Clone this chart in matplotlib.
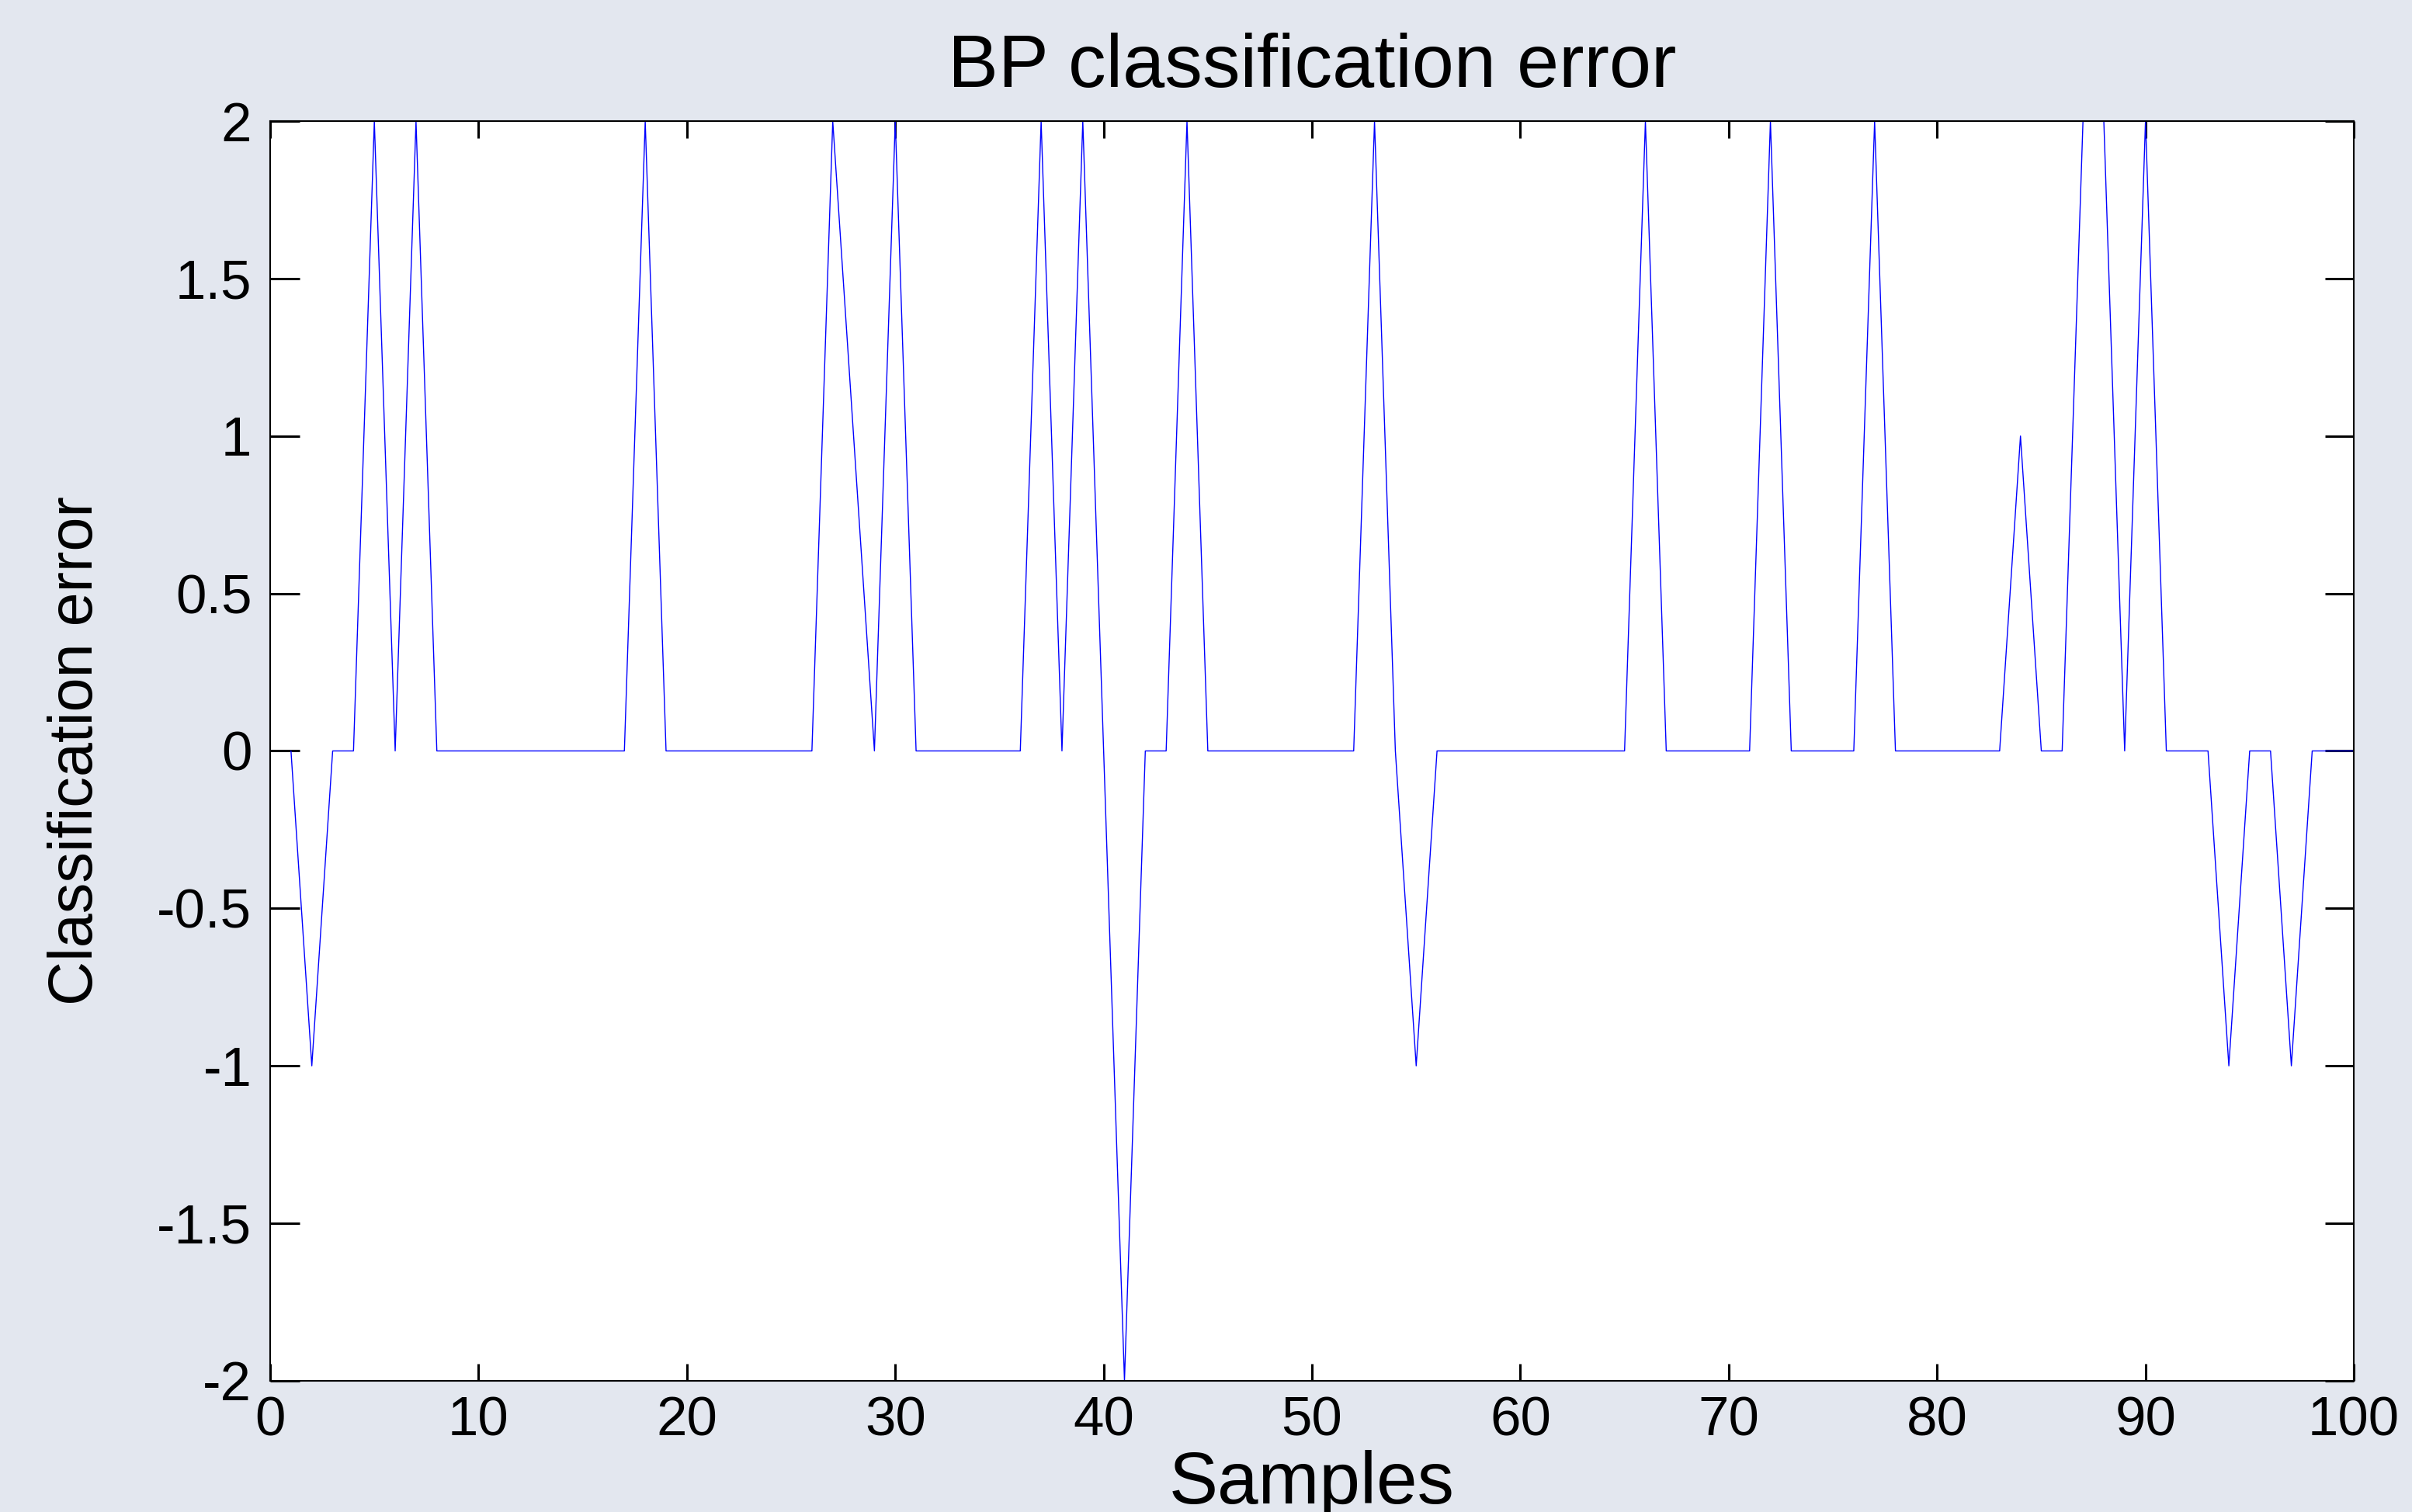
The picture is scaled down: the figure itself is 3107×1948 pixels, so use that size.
import matplotlib
matplotlib.use("Agg")
import matplotlib.pyplot as plt

# Amostras e erro de classificacao
samples = list(range(1, 101))
errors = [
    0, -1, 0, 0, 2, 0, 2, 0, 0, 0,
    0, 0, 0, 0, 0, 0, 0, 2, 0, 0,
    0, 0, 0, 0, 0, 0, 2, 1, 0, 2,
    0, 0, 0, 0, 0, 0, 2, 0, 2, 0,
    -2, 0, 0, 2, 0, 0, 0, 0, 0, 0,
    0, 0, 2, 0, -1, 0, 0, 0, 0, 0,
    0, 0, 0, 0, 0, 2, 0, 0, 0, 0,
    0, 2, 0, 0, 0, 0, 2, 0, 0, 0,
    0, 0, 0, 1, 0, 0, 2, 2, 0, 2,
    0, 0, 0, -1, 0, 0, -1, 0, 0, 0,
]
# a amostra 28 fica na descida de 27 para 29 (valor 1 na reta)

x_ticks = list(range(0, 101, 10))
y_ticks = [-2, -1.5, -1, -0.5, 0, 0.5, 1, 1.5, 2]
y_tick_labels = ["-2", "-1.5", "-1", "-0.5", "0", "0.5", "1", "1.5", "2"]

titulo = "BP classification error"
tituloX = "Samples"
tituloY = "Classification error"

plt.rcParams["font.family"] = ["Liberation Sans", "DejaVu Sans"]
plt.rcParams["axes.unicode_minus"] = False

fundo = "#e3e7ef"
fig = plt.figure(figsize=(31.07, 19.48), dpi=100, facecolor=fundo)
ax = fig.add_axes([0.112, 0.0868, 0.8639, 0.8331])
ax.set_facecolor("white")

ax.plot(samples, errors, color="#0000ff", linewidth=1.0)

ax.set_xlim(0, 100)
ax.set_ylim(-2, 2)
ax.set_xticks(x_ticks)
ax.set_yticks(y_ticks)
ax.set_yticklabels(y_tick_labels)

ax.tick_params(axis="both", direction="in", top=True, right=True,
               labelsize=51, colors="black", width=2.2)
ax.tick_params(axis="x", length=16, pad=14)
ax.tick_params(axis="y", length=27, pad=17)

for spine in ax.spines.values():
    spine.set_linewidth(1.5)
    spine.set_color("black")

ax.set_title(titulo, fontsize=70, pad=32)
ax.set_xlabel(tituloX, fontsize=68)
ax.set_ylabel(tituloY, fontsize=57)
ax.xaxis.set_label_coords(0.5, -0.055)
ax.yaxis.set_label_coords(-0.079, 0.5)

fig.savefig("out.png", dpi=100, facecolor=fundo)
plt.close(fig)
